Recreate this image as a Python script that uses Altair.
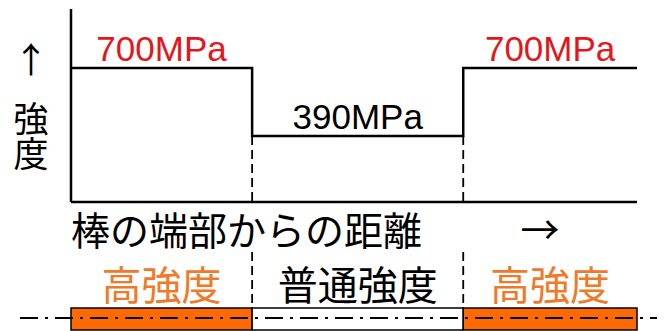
import altair as alt
import pandas as pd

# ---- data -------------------------------------------------------------
boundaries = [0, 32, 69.3, 100]          # distance from rod end (schematic units)
strength = [700, 390, 700]               # MPa per zone
strength_labels = ["700MPa", "390MPa", "700MPa"]
zone_labels = ["高強度", "普通強度", "高強度"]
zone_fill = ["#ff6a00", "#ffffff", "#ff6a00"]
strength_label_color = ["#e3161c", "#000000", "#e3161c"]
zone_label_color = ["#f07a28", "#000000", "#f07a28"]
x_title = "棒の端部からの距離"
x_arrow = "→"
y_arrow = "↑"
y_title_lines = ["強", "度"]

JP = "Noto Sans CJK JP"
LAT = "Liberation Sans"

# ---- tables -----------------------------------------------------------
step_df = pd.DataFrame({"x": boundaries, "y": strength + [strength[-1]]})
zones = pd.DataFrame({
    "start": boundaries[:-1],
    "end": boundaries[1:],
    "strength": strength,
    "slabel": strength_labels,
    "zlabel": zone_labels,
    "fill": zone_fill,
    "scolor": strength_label_color,
    "zcolor": zone_label_color,
})
zones["mid"] = (zones["start"] + zones["end"]) / 2
inner = pd.DataFrame({"x": boundaries[1:-1], "low": [min(strength)] * (len(boundaries) - 2)})
axis_df = pd.DataFrame({"x0": [boundaries[0]], "x1": [boundaries[-1]]})
one = pd.DataFrame({"k": [0]})

xs = alt.Scale(domain=[0, 100], range=[63, 629])
ys = alt.Scale(domain=[390, 700], range=[128, 60])

# axes
y_axis = alt.Chart(axis_df).mark_rule(color="black", strokeWidth=2.5).encode(
    x=alt.X("x0:Q", scale=xs, axis=None), y=alt.value(1), y2=alt.value(194))
x_axis = alt.Chart(axis_df).mark_rule(color="black", strokeWidth=2.5).encode(
    x=alt.X("x0:Q", scale=xs, axis=None), x2="x1:Q", y=alt.value(194))

# step line
step = alt.Chart(step_df).mark_line(interpolate="step-after", color="black", strokeWidth=2.5).encode(
    x=alt.X("x:Q", scale=xs, axis=None), y=alt.Y("y:Q", scale=ys, axis=None))

# dashed boundaries
dash_up = alt.Chart(inner).mark_rule(color="black", strokeWidth=1.8, strokeDash=[9, 5]).encode(
    x=alt.X("x:Q", scale=xs, axis=None), y=alt.Y("low:Q", scale=ys, axis=None), y2=alt.value(194))
dash_low = alt.Chart(inner).mark_rule(color="black", strokeWidth=1.8, strokeDash=[9, 5]).encode(
    x=alt.X("x:Q", scale=xs, axis=None), y=alt.value(244), y2=alt.value(299))

# strength labels
slabels = alt.Chart(zones).mark_text(font=LAT, fontSize=35, baseline="alphabetic", dy=-7).encode(
    x=alt.X("mid:Q", scale=xs, axis=None), y=alt.Y("strength:Q", scale=ys, axis=None),
    text="slabel:N", color=alt.Color("scolor:N", scale=None))

# bottom bar
bars = alt.Chart(zones).mark_rect(stroke="black", strokeWidth=1.5).encode(
    x=alt.X("start:Q", scale=xs, axis=None), x2="end:Q", y=alt.value(300), y2=alt.value(322),
    fill=alt.Fill("fill:N", scale=None))
center = alt.Chart(one).mark_rule(color="black", strokeWidth=2, strokeDash=[18, 7, 3, 7]).encode(
    x=alt.value(12), x2=alt.value(649), y=alt.value(310))
zlabels = alt.Chart(zones).mark_text(font=JP, fontSize=40, baseline="middle").encode(
    x=alt.X("mid:Q", scale=xs, axis=None), y=alt.value(280),
    text="zlabel:N", color=alt.Color("zcolor:N", scale=None))

# titles
xt = alt.Chart(one).mark_text(font=JP, fontSize=39, align="left", baseline="middle", text=x_title).encode(
    x=alt.value(63), y=alt.value(225))
xa = alt.Chart(one).mark_text(font=JP, fontSize=39, baseline="middle", text=x_arrow).encode(
    x=alt.value(532), y=alt.value(224))
ya = alt.Chart(one).mark_text(font=JP, fontSize=35, baseline="middle", text=y_arrow).encode(
    x=alt.value(23), y=alt.value(54))
yt = alt.Chart(one).mark_text(font=JP, fontSize=35, baseline="middle", lineHeight=35,
                              text=y_title_lines).encode(
    x=alt.value(23), y=alt.value(113))

chart = alt.layer(
    dash_up, dash_low, y_axis, x_axis, step, slabels, bars, center, zlabels, xt, xa, ya, yt
).properties(width=649, height=323, padding=0, autosize="none", background="white"
).configure_view(stroke=None)

chart.save("out.html", embed_options={"renderer": "svg", "actions": False})
